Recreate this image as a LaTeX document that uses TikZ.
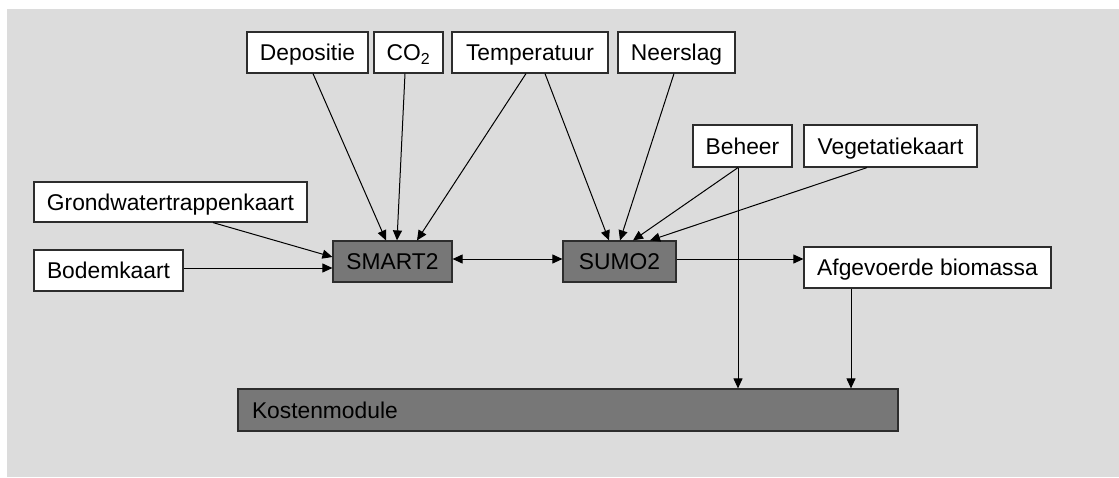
\documentclass[tikz,border=0pt]{standalone}
\usepackage{fontspec}
\setmainfont{Liberation Sans}
\usetikzlibrary{arrows.meta}
\definecolor{bggray}{RGB}{220,220,220}
\definecolor{modgray}{RGB}{119,119,119}
\definecolor{edgegray}{RGB}{45,45,45}
\tikzset{
  inbox/.style={draw=edgegray, line width=1.2pt, fill=white, minimum height=41pt,
    text height=16pt, text depth=0pt, inner sep=0pt},
  modbox/.style={inbox, fill=modgray},
  arr/.style={-{Triangle[length=10pt,width=9pt]}, line width=1pt, draw=black},
  dblarr/.style={{Triangle[length=10pt,width=9pt]}-{Triangle[length=10pt,width=9pt]}, line width=1pt, draw=black}
}
\begin{document}
\begin{tikzpicture}[x=1pt,y=-1pt,every node/.style={font=\fontsize{22.8}{26}\selectfont}]
\useasboundingbox (0,0) rectangle (1119,477);
\fill[bggray] (7,9) rectangle (1119,477);

% inputs
\node[inbox, minimum width=121pt] (dep) at (307.5,52.5) {Depositie};
\node[inbox, minimum width=69pt] (co2) at (408.5,52.5) {CO\textsubscript{2}};
\node[inbox, minimum width=156pt] (temp) at (530,52.5) {Temperatuur};
\node[inbox, minimum width=117pt] (neer) at (676.5,52.5) {Neerslag};
\node[inbox, minimum width=99pt, minimum height=42pt] (beheer) at (742.5,146) {Beheer};
\node[inbox, minimum width=173pt, minimum height=42pt] (veg) at (890.5,146) {Vegetatiekaart};
\node[inbox, minimum width=273pt, minimum height=40pt] (grond) at (170.5,202) {Grondwatertrappenkaart};
\node[inbox, minimum width=149pt] (bodem) at (108.5,270.5) {Bodemkaart};
\node[inbox, minimum width=247pt] (afg) at (927.5,267.5) {Afgevoerde biomassa};

% models
\node[modbox, minimum width=119pt] (smart) at (392.5,261.5) {SMART2};
\node[modbox, minimum width=113pt] (sumo) at (619.5,261.5) {SUMO2};
\node[modbox, minimum height=42pt, inner xsep=14pt, text width=632pt, align=left] (kosten) at (568,410) {Kostenmodule};

% connectors
\draw[arr] ([xshift=5.5pt]dep.south) -- ([xshift=-6.5pt]smart.north);
\draw[arr] ([xshift=-3.5pt]co2.south) -- ([xshift=4.5pt]smart.north);
\draw[arr] ([xshift=-4pt]temp.south) -- ([xshift=24.5pt]smart.north);
\draw[arr] ([xshift=15pt]temp.south) -- ([xshift=-10.5pt]sumo.north);
\draw[arr] ([xshift=-2.5pt]neer.south) -- ([xshift=0.5pt]sumo.north);
\draw[arr] ([xshift=-4.5pt]beheer.south) -- ([xshift=13.5pt]sumo.north);
\draw[arr] ([xshift=-23.5pt]veg.south) -- ([xshift=30.5pt]sumo.north);
\draw[arr] ([xshift=42.5pt]grond.south) -- ([yshift=4.5pt]smart.west);
\draw[arr] ([yshift=2.5pt]bodem.east) -- ([yshift=-6.5pt]smart.west);
\draw[dblarr] ([yshift=2.5pt]smart.east) -- ([yshift=2.5pt]sumo.west);
\draw[arr] ([yshift=2.5pt]sumo.east) -- ([yshift=8.5pt]afg.west);
\draw[arr] ([xshift=-4.5pt]beheer.south) -- ([xshift=-4.5pt]beheer.south |- kosten.north);
\draw[arr] ([xshift=-76.5pt]afg.south) -- ([xshift=-76.5pt]afg.south |- kosten.north);
\end{tikzpicture}
\end{document}
